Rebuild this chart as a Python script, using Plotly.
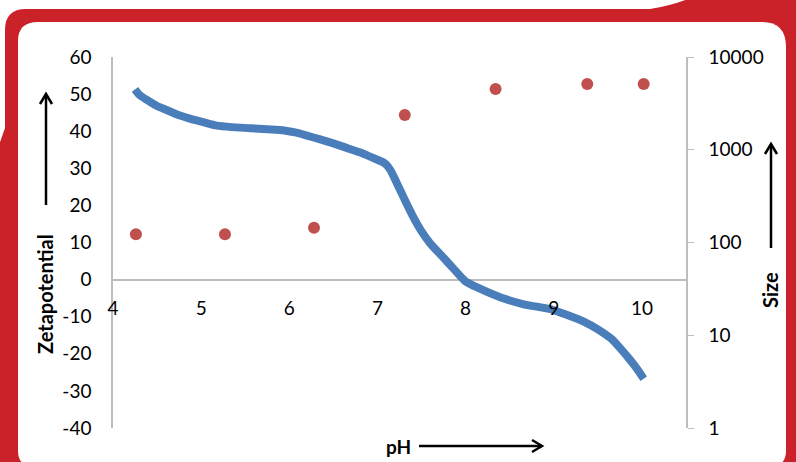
import plotly.graph_objects as go

# ---- data ----
ph_zeta = [4.25, 4.30, 4.38, 4.50, 4.61, 4.75, 4.90, 5.00, 5.18, 5.35, 5.56, 5.75, 5.94,
           6.08, 6.20, 6.35, 6.50, 6.65, 6.80, 6.95, 7.05, 7.10, 7.15, 7.21, 7.26, 7.33,
           7.41, 7.50, 7.60, 7.75, 7.88, 8.00, 8.15, 8.40, 8.65, 8.97, 9.10, 9.34, 9.50,
           9.65, 9.75, 9.84, 9.93, 10.02]
zeta = [51.3, 49.8, 48.5, 46.8, 45.7, 44.3, 43.2, 42.6, 41.5, 41.1, 40.8, 40.5, 40.2,
        39.6, 38.8, 37.8, 36.7, 35.5, 34.3, 32.8, 31.8, 31.0, 29.4, 26.5, 24.0, 20.5,
        16.7, 13.0, 9.7, 5.9, 2.5, -0.5, -2.3, -4.8, -6.6, -8.0, -9.1, -11.3, -13.4,
        -15.9, -18.4, -20.9, -23.6, -26.7]

ph_size = [4.26, 5.27, 6.28, 7.31, 8.34, 9.38, 10.02]
size = [123, 123, 144, 2370, 4520, 5120, 5120]

x_ticks = [4, 5, 6, 7, 8, 9, 10]
y_ticks = [-40, -30, -20, -10, 0, 10, 20, 30, 40, 50, 60]
y_ticktext = ["-40", "-30", "-20", "-10", "0", "10", "20", "30", "40", "50", "60"]
y2_ticks = [1, 10, 100, 1000, 10000]
y2_ticktext = ["1", "10", "100", "1000", "10000"]

# ---- layout geometry (pixels) ----
W, H = 796, 462
L, R, T, B = 113, 110, 57, 34
PW, PH = W - L - R, H - T - B

def px(x):
    return (x - L) / PW

def py(y):
    return (H - B - y) / PH

def path(cmds):
    out = []
    for c in cmds:
        if isinstance(c, str):
            out.append(c)
        else:
            out.append(f"{px(c[0]):.5f},{py(c[1]):.5f}")
    return " ".join(out)

RED = "#CB2128"
FONT = "Lato"

fig = go.Figure()
fig.add_trace(go.Scatter(x=ph_zeta, y=zeta, mode="lines",
                         line=dict(color="#4A7EBB", width=8, shape="spline", smoothing=0.6),
                         showlegend=False))
fig.add_trace(go.Scatter(x=ph_size, y=size, mode="markers", yaxis="y2",
                         marker=dict(color="#C0504D", size=12), showlegend=False))

shapes = []
# red frame
shapes.append(dict(type="path", xref="paper", yref="paper", layer="below",
                   fillcolor=RED, line=dict(width=0),
                   path=path(["M", (-2, 470), "L", (-2, 148), "L", (5, 128), "L", (5, 30),
                              "Q", (5, 9), (26, 9), "L", (650, 9), "Q", (670, 6), (688, -1),
                              "L", (800, -3), "L", (800, 470), "Z"])))
# white card
shapes.append(dict(type="path", xref="paper", yref="paper", layer="below",
                   fillcolor="white", line=dict(width=0),
                   path=path(["M", (38, 22), "L", (762, 22), "Q", (786, 22), (786, 47),
                              "L", (786, 451), "Q", (786, 466), (771, 466), "L", (33, 466),
                              "Q", (18, 466), (18, 451), "L", (18, 41), "Q", (18, 22), (38, 22), "Z"])))
# arrows
arrow_style = dict(type="path", xref="paper", yref="paper", line=dict(color="black", width=2.5))
shapes.append(dict(arrow_style, path=path(["M", (46, 205), "L", (46, 94)])))
shapes.append(dict(arrow_style, path=path(["M", (40, 104), "L", (46, 94), "L", (52, 104)])))
shapes.append(dict(arrow_style, path=path(["M", (771, 248), "L", (771, 144)])))
shapes.append(dict(arrow_style, path=path(["M", (765, 154), "L", (771, 144), "L", (777, 154)])))
shapes.append(dict(arrow_style, path=path(["M", (419, 446), "L", (542, 446)])))
shapes.append(dict(arrow_style, path=path(["M", (532, 440), "L", (542, 446), "L", (532, 452)])))

title_font = dict(family=FONT, size=20, color="black")
annotations = [
    dict(text="<b>Zetapotential</b>", x=px(45), y=py(294), xref="paper", yref="paper",
         xanchor="center", yanchor="middle", textangle=-90, showarrow=False, font=title_font),
    dict(text="<b>Size</b>", x=px(770), y=py(290), xref="paper", yref="paper",
         xanchor="center", yanchor="middle", textangle=-90, showarrow=False, font=title_font),
    dict(text="<b>pH</b>", x=px(398), y=py(446), xref="paper", yref="paper",
         xanchor="center", yanchor="middle", showarrow=False,
         font=dict(family=FONT, size=19, color="black")),
]

fig.update_layout(
    width=W, height=H,
    margin=dict(l=L, r=R, t=T, b=B, pad=0),
    paper_bgcolor="white", plot_bgcolor="rgba(0,0,0,0)",
    font=dict(family=FONT, size=19, color="black"),
    shapes=shapes, annotations=annotations,
    xaxis=dict(range=[4, 10.5], tickvals=x_ticks, showgrid=False, zeroline=False,
               showline=False, ticks="", anchor="free", position=0.4,
               ticklabelstandoff=15, tickfont=dict(size=19)),
    yaxis=dict(range=[-40, 60], tickvals=y_ticks, ticktext=y_ticktext, showgrid=False,
               zeroline=True, zerolinecolor="#BDBDBD", zerolinewidth=1.5, showline=True,
               linecolor="#BDBDBD", linewidth=1.5, ticks="", ticklabelstandoff=16),
    yaxis2=dict(type="log", range=[0, 4], tickvals=y2_ticks, ticktext=y2_ticktext,
                overlaying="y", side="right", showgrid=False, zeroline=False,
                showline=True, linecolor="#BDBDBD", linewidth=1.5, ticks="outside",
                ticklen=6, tickcolor="#BDBDBD", ticklabelstandoff=11),
)

fig.write_html("out.html", config={"displayModeBar": False},
               post_script="document.body.style.margin='0';document.body.style.overflow='hidden';")
